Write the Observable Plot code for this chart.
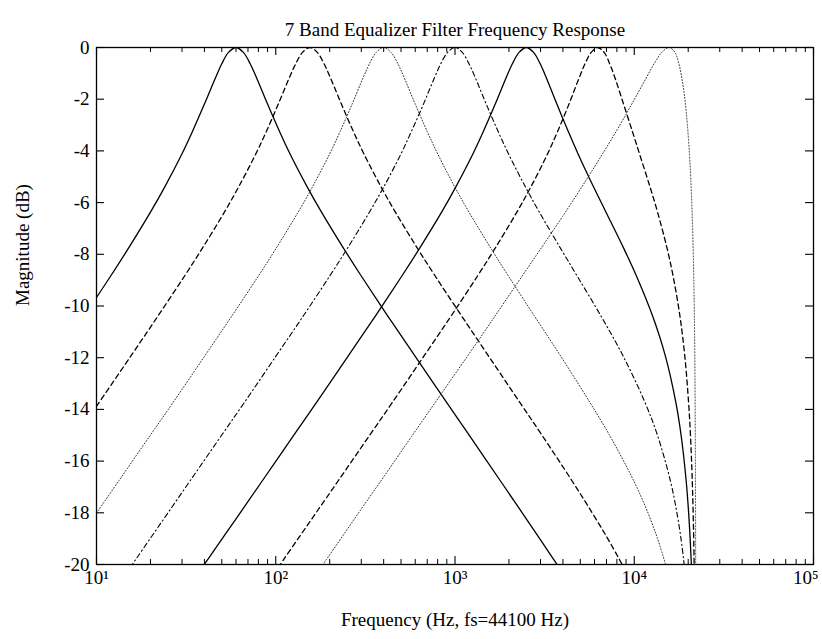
<!DOCTYPE html>
<html>
<head>
<meta charset="utf-8">
<script src="https://cdn.jsdelivr.net/npm/d3@7"></script>
<script src="https://cdn.jsdelivr.net/npm/@observablehq/plot@0.6"></script>
<style>
  html, body { margin: 0; padding: 0; background: #fff; }
</style>
</head>
<body>
<div id="chart"></div>
<script>
// ---- text ----
const chartTitle = "7 Band Equalizer Filter Frequency Response";
const xLabel = "Frequency (Hz, fs=44100 Hz)";
const yLabel = "Magnitude (dB)";

// ---- ticks ----
const xTickValues = [10, 100, 1000, 10000, 100000];
const xTickLabels = ["10\u00B9", "10\u00B2", "10\u00B3", "10\u2074", "10\u2075"];
const xMinorMultipliers = [2, 3, 4, 5, 6, 7, 8, 9];
const yTickValues = [0, -2, -4, -6, -8, -10, -12, -14, -16, -18, -20];

// ---- data ----
const band1Hz = [10, 12, 15, 20, 24, 30, 34.3, 40, 46.2, 50, 54.5, 60, 66, 72, 78, 90, 105, 120, 150, 180, 240, 300, 420, 600, 900, 1197, 1790, 2377, 2955, 3524, 3805];
const band1Db = [-9.67, -8.84, -7.79, -6.37, -5.40, -4.11, -3.25, -2.19, -1.16, -0.63, -0.19, 0, -0.19, -0.63, -1.16, -2.19, -3.25, -4.11, -5.40, -6.37, -7.79, -8.84, -10.37, -11.95, -13.74, -14.99, -16.76, -18.01, -18.98, -19.77, -20.12];

const band2Hz = [10, 15.5, 22.1, 31, 38.75, 51.7, 62, 77.5, 88.6, 103.3, 119.2, 129.2, 140.9, 155, 170.5, 186, 201.5, 232.5, 271, 310, 387.5, 465, 620, 775, 1085, 1544, 2304, 3051, 4493, 5837, 7085, 8215, 8734];
const band2Db = [-13.88, -11.95, -10.37, -8.84, -7.79, -6.37, -5.40, -4.11, -3.25, -2.19, -1.16, -0.63, -0.19, 0, -0.19, -0.63, -1.16, -2.19, -3.25, -4.11, -5.40, -6.37, -7.79, -8.84, -10.37, -11.95, -13.74, -14.99, -16.76, -18.01, -18.98, -19.77, -20.12];

const band3Hz = [10, 13.33, 20, 26.7, 40, 57.1, 80, 100, 133.3, 160, 200, 228.6, 266.7, 307.7, 333.3, 363.6, 400, 440, 480, 520, 600, 700, 800, 998, 1197, 1593, 1986, 2764, 3897, 5668, 7270, 9930, 11941, 13459, 14625, 15100];
const band3Db = [-18.01, -16.76, -14.99, -13.74, -11.95, -10.37, -8.84, -7.79, -6.37, -5.40, -4.11, -3.25, -2.19, -1.16, -0.63, -0.19, 0, -0.19, -0.63, -1.16, -2.19, -3.25, -4.11, -5.40, -6.37, -7.79, -8.84, -10.37, -11.95, -13.74, -14.99, -16.76, -18.01, -18.98, -19.77, -20.12];

const band4Hz = [15.4, 16.7, 20, 25, 33.3, 50, 66.7, 100, 142.9, 200, 250, 333, 400, 500, 571, 667, 769, 833, 909, 1000, 1098, 1197, 1296, 1494, 1741, 1987, 2474, 2956, 3897, 4801, 6500, 8690, 11495, 13459, 15905, 17307, 18211, 18824, 19064];
const band4Db = [-20.12, -19.77, -18.98, -18.01, -16.76, -14.99, -13.74, -11.95, -10.37, -8.84, -7.79, -6.37, -5.40, -4.11, -3.25, -2.19, -1.16, -0.63, -0.19, 0, -0.19, -0.63, -1.16, -2.19, -3.25, -4.11, -5.40, -6.37, -7.79, -8.84, -10.37, -11.95, -13.74, -14.99, -16.76, -18.01, -18.98, -19.77, -20.12];

const band5Hz = [38.9, 42.1, 50.5, 63.2, 84.2, 126.4, 168.5, 252.7, 361, 505.4, 631.7, 842, 1009, 1260, 1439, 1677, 1931, 2090, 2277, 2500, 2744, 2987, 3227, 3702, 4286, 4853, 5934, 6956, 8767, 10286, 12632, 14934, 17073, 18246, 19480, 20112, 20496, 20754, 20853];
const band5Db = [-20.12, -19.77, -18.98, -18.01, -16.76, -14.99, -13.74, -11.95, -10.37, -8.84, -7.79, -6.37, -5.40, -4.11, -3.25, -2.19, -1.16, -0.63, -0.19, 0, -0.19, -0.63, -1.16, -2.19, -3.25, -4.11, -5.40, -6.37, -7.79, -8.84, -10.37, -11.95, -13.74, -14.99, -16.76, -18.01, -18.98, -19.77, -20.12];

const band6Hz = [103, 111.6, 133.9, 167.4, 223.2, 334.8, 446.3, 669.1, 955.1, 1335, 1666, 2213, 2647, 3287, 3736, 4324, 4936, 5314, 5747, 6250, 6790, 7297, 7794, 8718, 9765, 10695, 12253, 13493, 15272, 16471, 17966, 19149, 20100, 20583, 21070, 21314, 21461, 21559, 21597];
const band6Db = [-20.12, -19.77, -18.98, -18.01, -16.76, -14.99, -13.74, -11.95, -10.37, -8.84, -7.79, -6.37, -5.40, -4.11, -3.25, -2.19, -1.16, -0.63, -0.19, 0, -0.19, -0.63, -1.16, -2.19, -3.25, -4.11, -5.40, -6.37, -7.79, -8.84, -10.37, -11.95, -13.74, -14.99, -16.76, -18.01, -18.98, -19.77, -20.12];

const band7Hz = [143, 190.7, 286, 408.6, 572, 953, 1430, 1895, 2821, 3978, 5436, 6610, 8380, 9595, 11155, 13140, 14328, 15625, 16797, 17609, 18671, 19328, 19773, 20336, 20676, 21067, 21361, 21590, 21705, 21820, 21912, 21951, 21981, 22003, 22013];
const band7Db = [-21.07, -19.83, -18.06, -16.52, -15.05, -12.84, -11.08, -9.83, -8.07, -6.54, -5.09, -4.15, -2.96, -2.24, -1.42, -0.54, -0.17, 0, -0.17, -0.54, -1.42, -2.24, -2.96, -4.15, -5.09, -6.54, -8.07, -9.83, -11.08, -12.84, -15.05, -16.52, -18.06, -19.83, -21.07];

// ---- presentation ----
const W = 822, H = 639;
const mLeft = 96, mRight = 9, mTop = 47, mBottom = 75;
const plotW = W - mLeft - mRight, plotH = H - mTop - mBottom;
const FONT = "'Liberation Serif', 'Times New Roman', Times, serif";

const solid = {stroke: "#000", strokeWidth: 1.3};
const dashed = {stroke: "#000", strokeWidth: 1.3, strokeDasharray: "5,3.5"};
const dotted = {stroke: "#333", strokeWidth: 1, strokeDasharray: "1,2"};
const dashdot = {stroke: "#000", strokeWidth: 1.1, strokeDasharray: "5,3,1.2,3"};

const bands = [
  [band1Hz, band1Db, solid],
  [band2Hz, band2Db, dashed],
  [band3Hz, band3Db, dotted],
  [band4Hz, band4Db, dashdot],
  [band5Hz, band5Db, solid],
  [band6Hz, band6Db, dashed],
  [band7Hz, band7Db, dotted]
];

const xMinor = xTickValues.slice(0, -1).flatMap(d => xMinorMultipliers.map(m => m * d));
const xLabelRows = xTickValues.map((v, i) => ({v, label: xTickLabels[i]}));
const lastIdx = xLabelRows.length - 1;

const chart = Plot.plot({
  width: W,
  height: H,
  marginLeft: mLeft,
  marginRight: mRight,
  marginTop: mTop,
  marginBottom: mBottom,
  style: {fontFamily: FONT, fontSize: "19px", color: "#000", background: "#fff"},
  x: {type: "log", domain: [10, 100000], axis: null},
  y: {domain: [-20, 0], axis: null},
  marks: [
    // curves
    ...bands.map(([hz, db, st]) =>
      Plot.line(d3.zip(hz, db), {x: d => d[0], y: d => d[1], curve: "catmull-rom", clip: true, ...st})
    ),
    // inward ticks (MATLAB style box)
    Plot.ruleX(xTickValues, {insetTop: plotH - 8, stroke: "#000", strokeWidth: 1.1}),
    Plot.ruleX(xTickValues, {insetBottom: plotH - 8, stroke: "#000", strokeWidth: 1.1}),
    Plot.ruleX(xMinor, {insetTop: plotH - 5, stroke: "#000", strokeWidth: 1}),
    Plot.ruleX(xMinor, {insetBottom: plotH - 5, stroke: "#000", strokeWidth: 1}),
    Plot.ruleY(yTickValues, {insetRight: plotW - 8, stroke: "#000", strokeWidth: 1.1}),
    Plot.ruleY(yTickValues, {insetLeft: plotW - 8, stroke: "#000", strokeWidth: 1.1}),
    Plot.frame({stroke: "#000", strokeWidth: 1.3}),
    // x tick labels (last one right-aligned so it stays inside)
    Plot.text(xLabelRows.slice(0, lastIdx), {x: "v", text: "label", frameAnchor: "bottom", dy: 19, fontSize: 19, fill: "#000"}),
    Plot.text(xLabelRows.slice(lastIdx), {x: "v", text: "label", frameAnchor: "bottom", dy: 19, dx: 5, textAnchor: "end", fontSize: 19, fill: "#000"}),
    // y tick labels
    Plot.axisY({anchor: "left", ticks: yTickValues, tickSize: 0, tickPadding: 7,
      tickFormat: d => String(d), label: null, fontSize: 19}),
    // title and axis labels
    Plot.text([chartTitle], {text: d => d, frameAnchor: "top", dy: -25, fontSize: 19, fill: "#000"}),
    Plot.text([xLabel], {text: d => d, frameAnchor: "bottom", dy: 61, fontSize: 19, fill: "#000"}),
    Plot.text([yLabel], {text: d => d, frameAnchor: "left", dx: -74, rotate: -90, fontSize: 19, fill: "#000"})
  ]
});

document.getElementById("chart").appendChild(chart);
</script>
</body>
</html>
